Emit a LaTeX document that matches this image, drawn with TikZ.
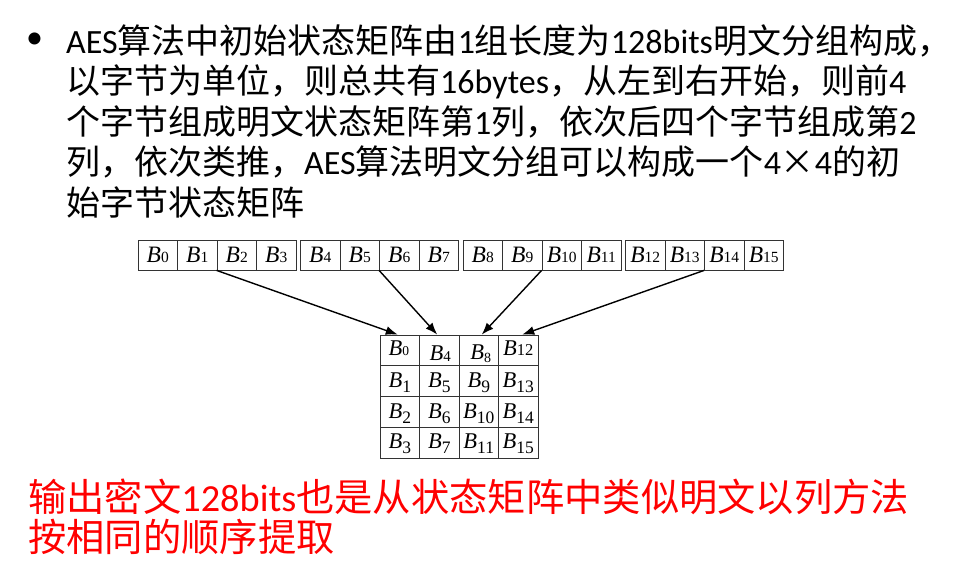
\documentclass[tikz,border=0pt]{standalone}
\usepackage{fontspec}
\setmainfont{Carlito}
\newfontfamily\cjk{Noto Sans CJK SC}
\newfontfamily\tnr{Liberation Serif}
\usetikzlibrary{arrows.meta}
\newcommand\Bsym[1]{{\tnr\fontsize{23.5}{23.5}\selectfont\itshape B}{\tnr\fontsize{15.5}{15.5}\selectfont #1}}
\newcommand\Msym[4]{{\tnr\fontsize{22.5}{22.5}\selectfont\itshape B}\raisebox{#2}{\tnr\fontsize{#3}{#3}\selectfont #1}}
\tikzset{
  bodyline/.style={anchor=west, inner sep=0pt, font=\fontsize{34}{34}\selectfont},
  redline/.style={anchor=west, inner sep=0pt, text=red, font=\fontsize{38.3}{38.3}\selectfont},
  cellbox/.style={draw=black!80, line width=0.8pt, minimum width=39.5pt, minimum height=30pt, inner sep=0pt},
  mcell/.style={draw=black!80, line width=0.8pt, minimum width=39.5pt, minimum height=30.75pt, inner sep=0pt},
  celltext/.style={inner sep=0pt},
  maparrow/.style={line width=1.4pt, -{Latex[length=12pt,width=9pt]}}
}
\begin{document}
\begin{tikzpicture}[x=1pt,y=-1pt]
\useasboundingbox (0,0) rectangle (974,575);
% bullet text
\node[bodyline] (bul) at (26,41) {•};
\node[bodyline] (l1) at (66,41) {AES{\cjk 算法中初始状态矩阵由}1{\cjk 组长度为}128bits{\cjk 明文分组构成，}};
\node[bodyline] (l2) at (66,82) {{\cjk 以字节为单位，则总共有}16bytes{\cjk ，从左到右开始，则前}4};
\node[bodyline] (l3) at (66,122) {{\cjk 个字节组成明文状态矩阵第}1{\cjk 列，依次后四个字节组成第}2};
\node[bodyline] (l4) at (66,162) {{\cjk 列，依次类推，}AES{\cjk 算法明文分组可以构成一个}4{\cjk ×}4{\cjk 的初}};
\node[bodyline] (l5) at (66,202) {{\cjk 始字节状态矩阵}};
% top row
\foreach \i in {0,...,15}{
  \pgfmathtruncatemacro\g{int(\i/4)}
  \pgfmathtruncatemacro\k{mod(\i,4)}
  \node[cellbox] (t\i) at ({138+162.5*\g+39.5*\k+19.75},255) {};
  \node[celltext] (tt\i) at (t\i.center) {\Bsym{\i}};
}
% matrix
\foreach \c in {0,...,3}{
  \foreach \r in {0,...,3}{
    \pgfmathtruncatemacro\n{4*\c+\r}
    \node[mcell] (m\n) at ({380+39.5*\c+19.75},{335+30.75*\r+15.375}) {};
  }
}
\node[celltext] (mt0) at ([xshift=-1pt,yshift=2.5pt]m0.center) {\Msym{0}{0pt}{13.5}{}};
\node[celltext] (mt4) at ([xshift=1pt,yshift=-3pt]m4.center) {\Msym{4}{-1pt}{15}{}};
\node[celltext] (mt8) at ([xshift=2pt,yshift=-3pt]m8.center) {\Msym{8}{-3pt}{14}{}};
\node[celltext] (mt12) at ([xshift=0pt,yshift=2pt]m12.center) {\Msym{12}{0pt}{16.5}{}};
\foreach \n in {1,2,3,5,6,7,9,10,11,13,14,15}{
  \node[celltext] (mt\n) at ([yshift=-1.5pt]m\n.center) {\Msym{\n}{-5pt}{17.5}{}};
}
% arrows
\draw[maparrow] (t2.south west) -- ([xshift=-2pt]m0.north);
\draw[maparrow] (t6.south west) -- ([xshift=-2pt]m4.north);
\draw[maparrow] (t10.south west) -- ([xshift=3pt]m8.north);
\draw[maparrow] (t14.south west) -- ([xshift=4pt]m12.north);
% red text
\node[redline] (r1) at (28,497) {{\cjk 输出密文}128bits{\cjk 也是从状态矩阵中类似明文以列方法}};
\node[redline] (r2) at (28,537) {{\cjk 按相同的顺序提取}};
\end{tikzpicture}
\end{document}
